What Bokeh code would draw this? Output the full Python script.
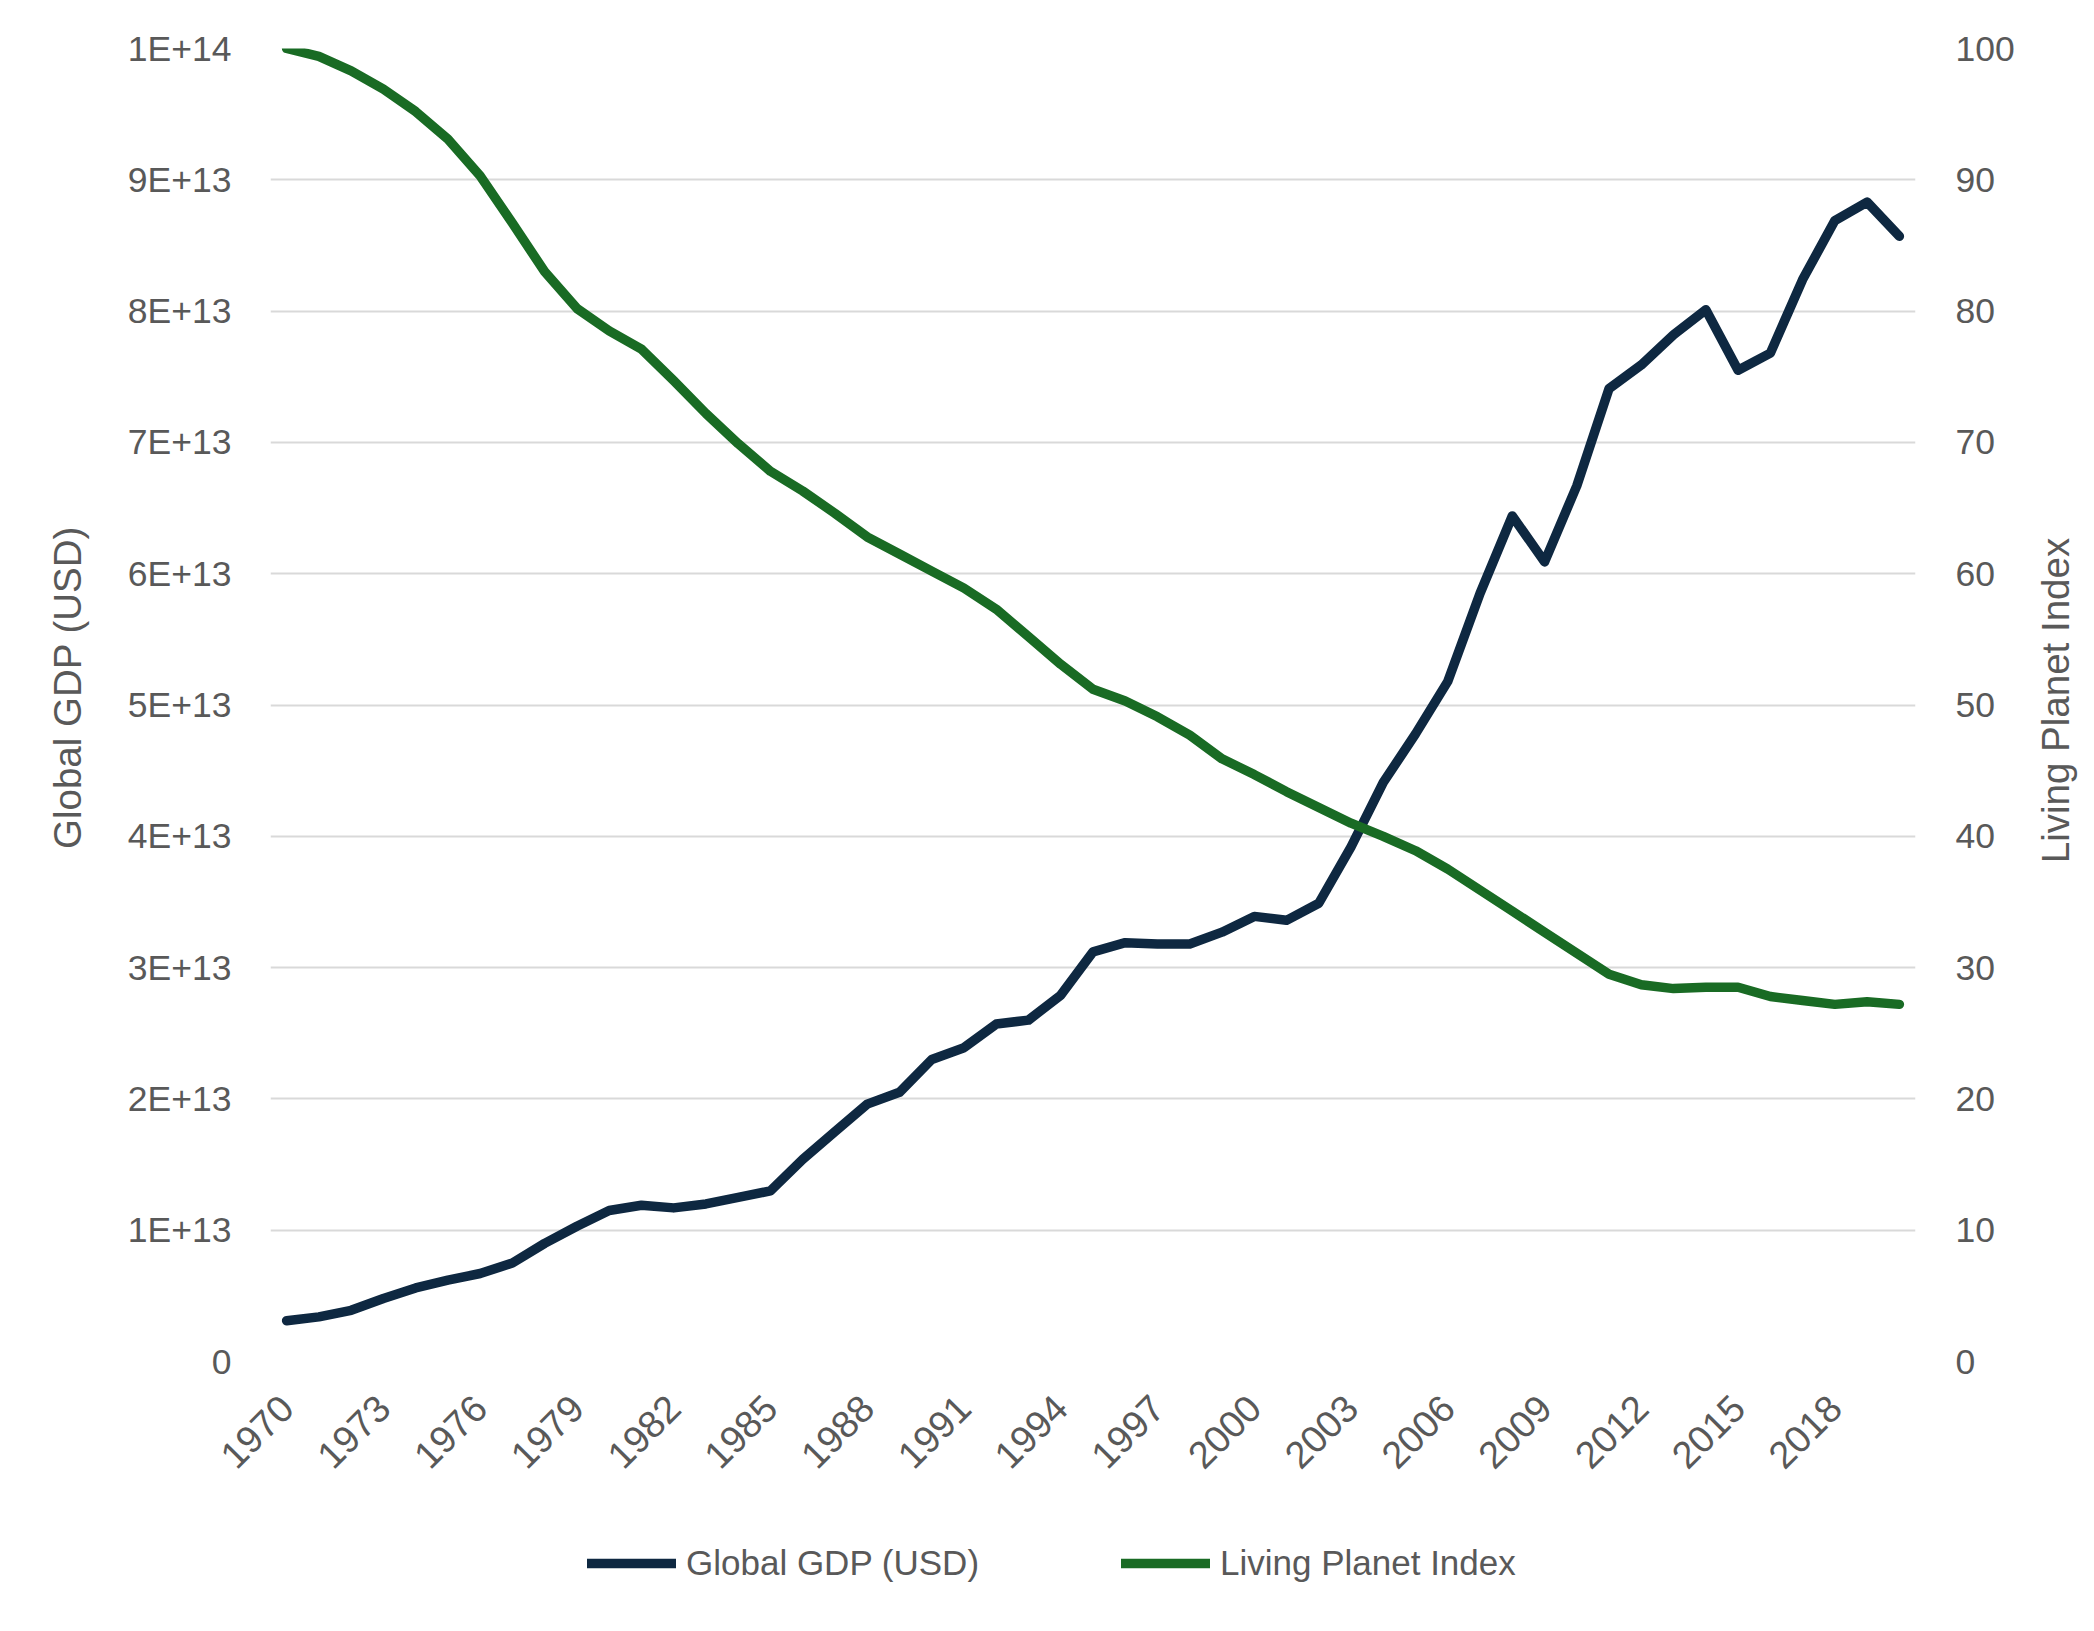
import math
from bokeh.plotting import figure
from bokeh.layouts import column, row
from bokeh.models import Range1d, LinearAxis, FixedTicker, Legend, LegendItem, Label
from bokeh.embed import file_html
from bokeh.resources import INLINE

# ---------------- data ----------------
years = list(range(1970, 2021))

gdp_usd = [
    0.31e13, 0.34e13, 0.39e13, 0.48e13, 0.56e13, 0.62e13, 0.67e13, 0.75e13, 0.90e13, 1.03e13,
    1.15e13, 1.19e13, 1.17e13, 1.20e13, 1.25e13, 1.30e13, 1.54e13, 1.75e13, 1.96e13, 2.05e13,
    2.30e13, 2.39e13, 2.57e13, 2.60e13, 2.79e13, 3.12e13, 3.19e13, 3.18e13, 3.18e13, 3.27e13,
    3.39e13, 3.36e13, 3.49e13, 3.92e13, 4.41e13, 4.78e13, 5.18e13, 5.85e13, 6.44e13, 6.09e13,
    6.67e13, 7.41e13, 7.59e13, 7.82e13, 8.01e13, 7.55e13, 7.68e13, 8.24e13, 8.69e13, 8.83e13,
    8.57e13,
]

living_planet_index = [
    100.0, 99.4, 98.3, 96.9, 95.2, 93.1, 90.3, 86.7, 83.0, 80.2,
    78.5, 77.1, 74.7, 72.2, 69.9, 67.8, 66.3, 64.6, 62.8, 61.5,
    60.2, 58.9, 57.3, 55.2, 53.1, 51.2, 50.3, 49.1, 47.7, 45.9,
    44.7, 43.4, 42.2, 41.0, 40.0, 38.9, 37.5, 35.9, 34.3, 32.7,
    31.1, 29.5, 28.7, 28.4, 28.5, 28.5, 27.8, 27.5, 27.2, 27.4,
    27.2,
]

gdp_tick_values = [0, 1e13, 2e13, 3e13, 4e13, 5e13, 6e13, 7e13, 8e13, 9e13, 1e14]
gdp_tick_labels = ["0", "1E+13", "2E+13", "3E+13", "4E+13", "5E+13", "6E+13",
                   "7E+13", "8E+13", "9E+13", "1E+14"]
lpi_tick_values = [0, 10, 20, 30, 40, 50, 60, 70, 80, 90, 100]
lpi_tick_labels = ["0", "10", "20", "30", "40", "50", "60", "70", "80", "90", "100"]
year_tick_values = [1970, 1973, 1976, 1979, 1982, 1985, 1988, 1991, 1994, 1997,
                    2000, 2003, 2006, 2009, 2012, 2015, 2018]
year_tick_labels = ["1970", "1973", "1976", "1979", "1982", "1985", "1988", "1991", "1994",
                    "1997", "2000", "2003", "2006", "2009", "2012", "2015", "2018"]

series_names = ["Global GDP (USD)", "Living Planet Index"]
left_title = "Global GDP (USD)"
right_title = "Living Planet Index"

# ---------------- style ----------------
GDP_COLOR = "#0E2841"
LPI_COLOR = "#196B24"
TEXT_COLOR = "#595959"
GRID_COLOR = "#D9D9D9"
FONT = "Liberation Sans"
TICK_SIZE = "35.5px"
XTICK_SIZE = "38px"
TITLE_SIZE = "38.5px"
LEGEND_SIZE = "35px"
LINE_W = 9.5

W = 2078
H_MAIN = 1520
H_LEG = 95
W_LT = 110          # left title strip
W_RT = 60           # right title strip
W_MAIN = W - W_LT - W_RT
FRAME_L, FRAME_R, FRAME_T, FRAME_B = 270, 1915, 48, 1361


def blank_figure(width, height):
    f = figure(width=width, height=height, x_axis_type=None, y_axis_type=None,
               x_range=Range1d(0, 1), y_range=Range1d(0, 1),
               output_backend="svg", toolbar_location=None,
               min_border_left=0, min_border_right=0, min_border_top=0, min_border_bottom=0)
    f.outline_line_color = None
    f.background_fill_color = "white"
    f.border_fill_color = "white"
    f.xgrid.visible = False
    f.ygrid.visible = False
    return f


# ---------------- main chart ----------------
p = figure(
    width=W_MAIN, height=H_MAIN,
    x_range=Range1d(1969.5, 2020.5),
    y_range=Range1d(0, 1e14),
    output_backend="svg", toolbar_location=None,
    min_border_left=FRAME_L - W_LT, min_border_right=(W_LT + W_MAIN) - FRAME_R,
    min_border_top=FRAME_T, min_border_bottom=H_MAIN - FRAME_B,
)
p.outline_line_color = None
p.background_fill_color = "white"
p.border_fill_color = "white"
p.extra_y_ranges = {"lpi": Range1d(0, 100)}

p.xgrid.visible = False
p.ygrid.ticker = FixedTicker(ticks=gdp_tick_values)
p.ygrid.grid_line_color = GRID_COLOR
p.ygrid.grid_line_width = 2


def style_axis(ax, standoff, size):
    ax.axis_line_color = None
    ax.major_tick_line_color = None
    ax.minor_tick_line_color = None
    ax.major_tick_out = 0
    ax.major_tick_in = 0
    ax.major_label_standoff = standoff
    ax.major_label_text_font = FONT
    ax.major_label_text_font_size = size
    ax.major_label_text_color = TEXT_COLOR


ly = p.yaxis[0]
ly.ticker = FixedTicker(ticks=gdp_tick_values)
ly.major_label_overrides = {v: l for v, l in zip(gdp_tick_values, gdp_tick_labels)}
style_axis(ly, 39, TICK_SIZE)

ry = LinearAxis(y_range_name="lpi")
ry.ticker = FixedTicker(ticks=lpi_tick_values)
ry.major_label_overrides = {v: l for v, l in zip(lpi_tick_values, lpi_tick_labels)}
style_axis(ry, 40, TICK_SIZE)
p.add_layout(ry, "right")

bx = p.xaxis[0]
bx.ticker = FixedTicker(ticks=year_tick_values)
bx.major_label_overrides = {v: l for v, l in zip(year_tick_values, year_tick_labels)}
bx.major_label_orientation = math.pi / 4
style_axis(bx, 40, XTICK_SIZE)

r_gdp = p.line(years, gdp_usd, line_color=GDP_COLOR, line_width=LINE_W,
               line_cap="round", line_join="round")
r_lpi = p.line(years, living_planet_index, y_range_name="lpi", line_color=LPI_COLOR,
               line_width=LINE_W, line_cap="round", line_join="round")

# ---------------- axis title strips ----------------
plt = blank_figure(W_LT, H_MAIN)
plt.add_layout(Label(x=67, y=FRAME_B - 687, x_units="screen", y_units="screen",
                     text=left_title, angle=math.pi / 2, text_align="center",
                     text_baseline="middle", text_font=FONT, text_font_size=TITLE_SIZE,
                     text_color=TEXT_COLOR))

prt = blank_figure(W_RT, H_MAIN)
prt.add_layout(Label(x=2055 - (W_LT + W_MAIN), y=FRAME_B - 700, x_units="screen",
                     y_units="screen", text=right_title, angle=math.pi / 2,
                     text_align="center", text_baseline="middle", text_font=FONT,
                     text_font_size=TITLE_SIZE, text_color=TEXT_COLOR))

# ---------------- legend strip ----------------
pl = blank_figure(W, H_LEG)
pl.x_range = Range1d(1969.5, 2020.5)
pl.y_range = Range1d(2e14, 3e14)
lg_gdp = pl.line(years, gdp_usd, line_color=GDP_COLOR, line_width=LINE_W,
                 line_cap="round", visible=False)
lg_lpi = pl.line(years, living_planet_index, line_color=LPI_COLOR, line_width=LINE_W,
                 line_cap="round", visible=False)

legend = Legend(
    items=[LegendItem(label=series_names[0], renderers=[lg_gdp]),
           LegendItem(label=series_names[1], renderers=[lg_lpi])],
    location=(587, 32), orientation="horizontal", click_policy="none",
    padding=0, margin=0, spacing=135, border_line_color=None,
    background_fill_alpha=0, glyph_width=89, glyph_height=40,
    label_height=40, label_width=300, label_standoff=10,
    label_text_font=FONT, label_text_font_size=LEGEND_SIZE,
    label_text_color=TEXT_COLOR,
)
pl.add_layout(legend, "center")

layout = column(row(plt, p, prt, spacing=0), pl, spacing=0)
open("out.html", "w").write(file_html(layout, INLINE))
